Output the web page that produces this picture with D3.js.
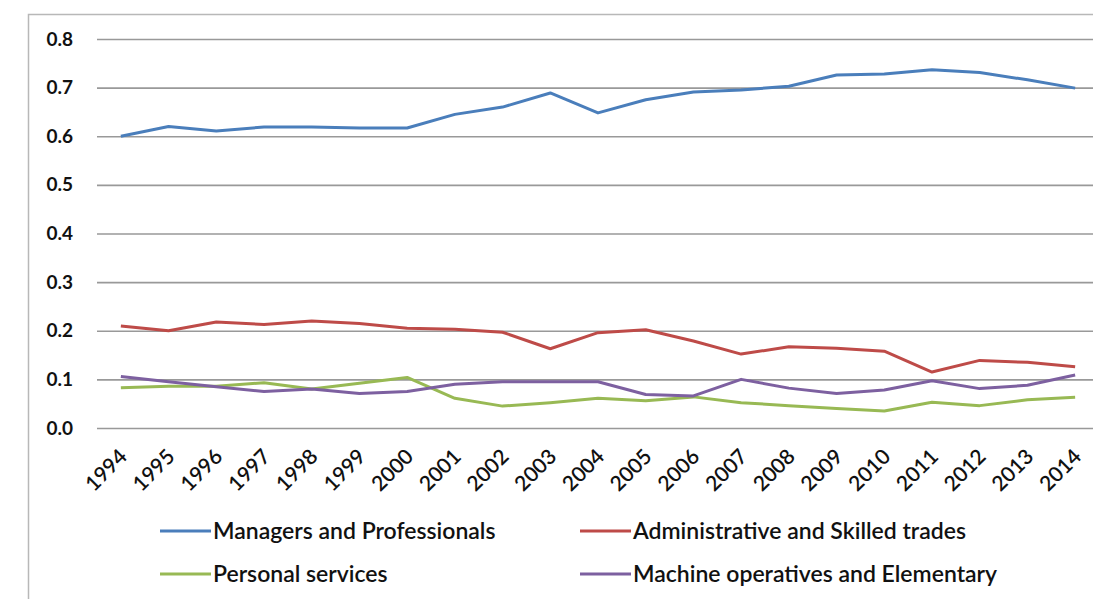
<!DOCTYPE html>
<html>
<head>
<meta charset="utf-8">
<script src="https://cdn.jsdelivr.net/npm/d3@7"></script>
<style>
  html, body { margin: 0; padding: 0; background: #ffffff; }
  svg { display: block; }
  text { font-family: Lato, "Open Sans", sans-serif; fill: #111; }
</style>
</head>
<body>
<svg id="chart" width="1093" height="599"></svg>
<script>
// Share of employment by occupational group, 1994-2014
const years = ["1994","1995","1996","1997","1998","1999","2000","2001","2002","2003","2004",
               "2005","2006","2007","2008","2009","2010","2011","2012","2013","2014"];

const managers = [0.600,0.620,0.611,0.619,0.619,0.617,0.617,0.645,0.660,0.689,0.648,
                  0.675,0.691,0.695,0.703,0.726,0.728,0.737,0.731,0.716,0.699];
const adminSkilled = [0.210,0.200,0.218,0.213,0.220,0.215,0.205,0.203,0.197,0.163,0.196,
                      0.202,0.179,0.152,0.167,0.164,0.158,0.115,0.139,0.135,0.126];
const personalServices = [0.083,0.086,0.086,0.093,0.080,0.092,0.104,0.061,0.045,0.052,0.061,
                          0.056,0.064,0.052,0.046,0.040,0.035,0.053,0.046,0.058,0.063];
const machineElementary = [0.106,0.095,0.085,0.075,0.080,0.071,0.075,0.090,0.095,0.095,0.095,
                           0.069,0.066,0.100,0.082,0.071,0.078,0.097,0.081,0.088,0.109];

const yTicks = [0, 0.1, 0.2, 0.3, 0.4, 0.5, 0.6, 0.7, 0.8];

const seriesNames = ["Managers and Professionals", "Administrative and Skilled trades",
                     "Personal services", "Machine operatives and Elementary"];
const seriesValues = [managers, adminSkilled, personalServices, machineElementary];
const seriesColors = ["#4a7ebb", "#be4b48", "#98b954", "#7d60a0"];

const svg = d3.select("#chart");

// outer chart frame (only top and left edges fall inside the page)
svg.append("rect")
  .attr("x", 28.5).attr("y", 14.5)
  .attr("width", 1200).attr("height", 700)
  .attr("fill", "#ffffff")
  .attr("stroke", "#b8b8b8").attr("stroke-width", 1.5);

const plot = { left: 97, right: 1099, top: 39, bottom: 428 };

const x = d3.scalePoint().domain(years).range([plot.left, plot.right]).padding(0.5);
const y = d3.scaleLinear().domain([0, 0.8]).range([plot.bottom, plot.top]);

// horizontal gridlines + value labels
const yAxis = d3.axisLeft(y)
  .tickValues(yTicks)
  .tickFormat(d3.format(".1f"))
  .tickSize(-(plot.right - plot.left))
  .tickPadding(24);

const gy = svg.append("g")
  .attr("transform", `translate(${plot.left},0)`)
  .call(yAxis);
gy.select(".domain").remove();
gy.selectAll(".tick line").attr("stroke", "#999999").attr("stroke-width", 1.6);
gy.selectAll(".tick text")
  .attr("font-size", 19).attr("font-weight", 700)
  .attr("fill", "#1a1a1a")
  .style("font-family", "Lato, sans-serif");

// category labels, rotated
const xAxis = d3.axisBottom(x).tickSize(0).tickPadding(0);
const gx = svg.append("g")
  .attr("transform", `translate(0,${plot.bottom})`)
  .call(xAxis);
gx.select(".domain").remove();
gx.selectAll(".tick text")
  .attr("font-size", 21).attr("font-weight", 600)
  .attr("fill", "#1a1a1a")
  .attr("text-anchor", "end")
  .attr("y", 0)
  .attr("dy", 0)
  .attr("transform", "translate(7,30) rotate(-45)");

// series lines
const line = d3.line()
  .x((d, i) => x(years[i]))
  .y(d => y(d));

seriesValues.forEach((vals, k) => {
  svg.append("path")
    .datum(vals)
    .attr("fill", "none")
    .attr("stroke", seriesColors[k])
    .attr("stroke-width", 3)
    .attr("stroke-linejoin", "round")
    .attr("d", line);
});

// legend: two columns, two rows
const legendPos = [
  { x: 160, y: 531 }, { x: 580, y: 531 },
  { x: 160, y: 574 }, { x: 580, y: 574 }
];
const legend = svg.append("g");
seriesNames.forEach((name, k) => {
  const g = legend.append("g").attr("transform", `translate(${legendPos[k].x},${legendPos[k].y})`);
  g.append("line")
    .attr("x1", 0).attr("x2", 51)
    .attr("stroke", seriesColors[k]).attr("stroke-width", 3);
  g.append("text")
    .attr("x", 53).attr("dy", "0.35em")
    .attr("font-size", 23).attr("font-weight", 600)
    .attr("fill", "#111")
    .text(name);
});
</script>
</body>
</html>
